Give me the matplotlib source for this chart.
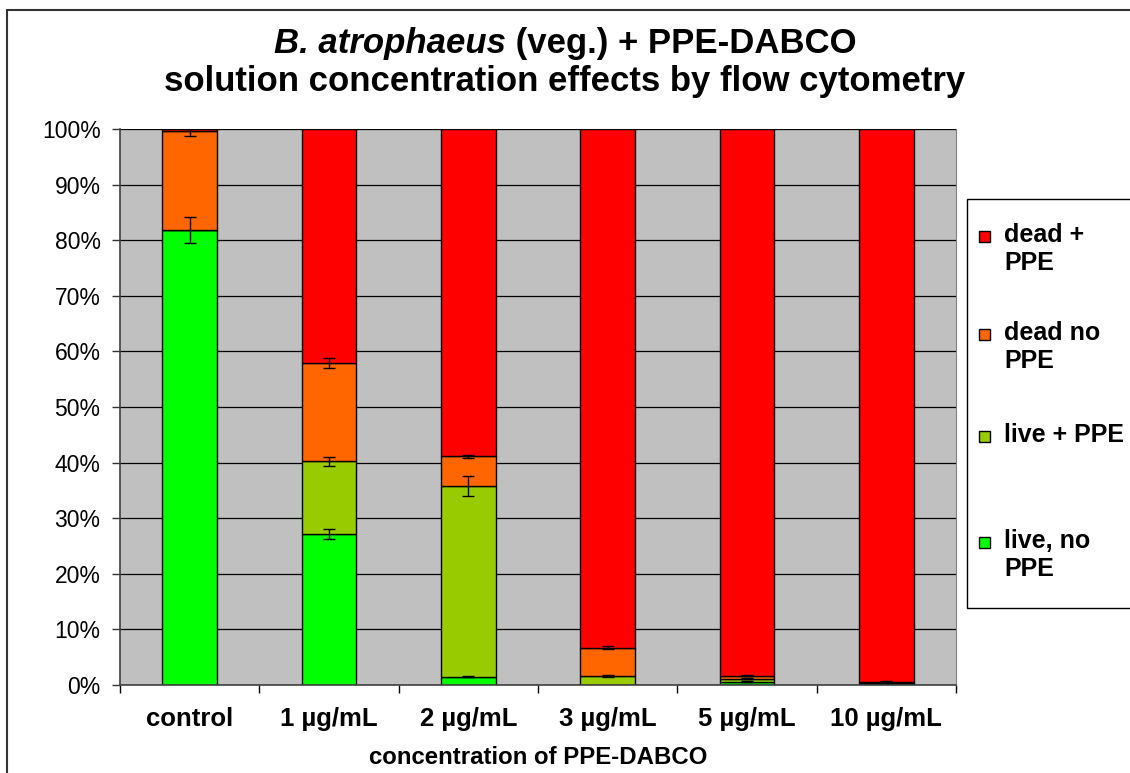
import matplotlib
matplotlib.use("Agg")
import matplotlib.pyplot as plt
from matplotlib.patches import Rectangle
import numpy as np

plt.rcParams["font.family"] = ["Liberation Sans", "DejaVu Sans"]

categories = ["control", "1 µg/mL", "2 µg/mL", "3 µg/mL", "5 µg/mL", "10 µg/mL"]

# percentages of each population, stacked bottom to top
live_no_ppe = [81.8, 27.2, 1.5, 0.0, 0.6, 0.2]
live_ppe = [0.0, 13.0, 34.3, 1.6, 0.5, 0.1]
dead_no_ppe = [17.8, 17.7, 5.3, 5.1, 0.6, 0.3]
dead_ppe = [0.4, 42.1, 58.9, 93.3, 98.3, 99.4]

# error bars drawn at the top of each segment (nan = none)
err_live_no_ppe = [2.3, 0.9, 0.15, np.nan, 0.1, np.nan]
err_live_ppe = [np.nan, 0.75, 1.8, 0.2, 0.1, np.nan]
err_dead_no_ppe = [0.85, 0.9, 0.2, 0.25, 0.1, 0.1]

series = [
    ("live, no\nPPE", live_no_ppe, err_live_no_ppe, "#00FF00"),
    ("live + PPE", live_ppe, err_live_ppe, "#99CC00"),
    ("dead no\nPPE", dead_no_ppe, err_dead_no_ppe, "#FF6600"),
    ("dead +\nPPE", dead_ppe, None, "#FF0000"),
]

W, H = 1130, 773
fig = plt.figure(figsize=(W / 100, H / 100), dpi=100)
fig.patch.set_facecolor("white")

ax = fig.add_axes([120 / W, 1 - 685 / H, (956 - 120) / W, (685 - 129) / H])
ax.set_facecolor("#C0C0C0")

x = np.arange(len(categories))
bottom = np.zeros(len(categories))
for label, vals, errs, color in series:
    vals = np.array(vals)
    ax.bar(x, vals, width=0.39, bottom=bottom, color=color,
           edgecolor="black", linewidth=1.0, zorder=2)
    top = bottom + vals
    if errs is not None:
        ax.errorbar(x, top, yerr=errs, fmt="none", ecolor="black",
                    elinewidth=1.0, capsize=4.5, capthick=1.0, zorder=3)
    bottom = top

ax.set_xlim(-0.5, len(categories) - 0.5)
ax.set_ylim(0, 100)
ax.set_yticks(np.arange(0, 101, 10))
ax.set_yticklabels(["{}%".format(v) for v in range(0, 101, 10)], fontsize=16.5)
ax.yaxis.grid(True, color="black", linewidth=0.9, zorder=0)
ax.set_axisbelow(True)

ax.set_xticks(x)
ax.set_xticklabels(categories, fontsize=18.5, fontweight="bold")
ax.set_xticks(np.arange(-0.5, len(categories)), minor=True)
ax.tick_params(axis="x", which="major", length=0, pad=16)
ax.tick_params(axis="x", which="minor", length=6, width=1, color="black")
ax.tick_params(axis="y", length=6, width=1, pad=8, color="#333333")
ax.set_xlabel("concentration of PPE-DABCO", fontsize=17.3,
              fontweight="bold", labelpad=11)

for side in ["left", "bottom"]:
    ax.spines[side].set_color("#404040")
    ax.spines[side].set_linewidth(1.2)
ax.spines["right"].set_color("#808080")
ax.spines["top"].set_visible(False)

# title, first line mixes bold italic genus name with bold text
fig.canvas.draw()
renderer = fig.canvas.get_renderer()
y1 = 1 - 43 / H
t1 = fig.text(0, y1, "B. atrophaeus", fontsize=25, fontweight="bold",
              fontstyle="italic", va="center", ha="left")
t2 = fig.text(0, y1, " (veg.) + PPE-DABCO", fontsize=25,
              fontweight="bold", va="center", ha="left")
w1 = t1.get_window_extent(renderer).width
w2 = t2.get_window_extent(renderer).width
x0 = (W / 2 - (w1 + w2) / 2) / W
t1.set_x(x0)
t2.set_x(x0 + w1 / W)
fig.text(0.5, 1 - 81 / H, "solution concentration effects by flow cytometry",
         fontsize=25, fontweight="bold", ha="center", va="center")

# legend, drawn by hand so the box runs past the right edge
fig.patches.append(Rectangle((967 / W, 1 - 608 / H), 0.2, (608 - 199) / H,
                             transform=fig.transFigure, facecolor="white",
                             edgecolor="black", linewidth=1.0))
legend_y = [236, 334, 436, 542]
for (label, vals, errs, color), ly in zip(series[::-1], legend_y):
    fig.patches.append(Rectangle((979 / W, 1 - (ly + 6) / H), 11 / W, 11 / H,
                                 transform=fig.transFigure, facecolor=color,
                                 edgecolor="black", linewidth=1.0, zorder=5))
    fig.text(1004 / W, 1 - (ly - 13) / H, label, fontsize=18,
             fontweight="bold", va="top", ha="left", linespacing=1.2)

# outer chart border
fig.patches.append(Rectangle((7 / W, -0.05), 1.1, (763 / H) + 0.05,
                             transform=fig.transFigure, facecolor="none",
                             edgecolor="#333333", linewidth=1.5))

fig.savefig("out.png", dpi=100)
